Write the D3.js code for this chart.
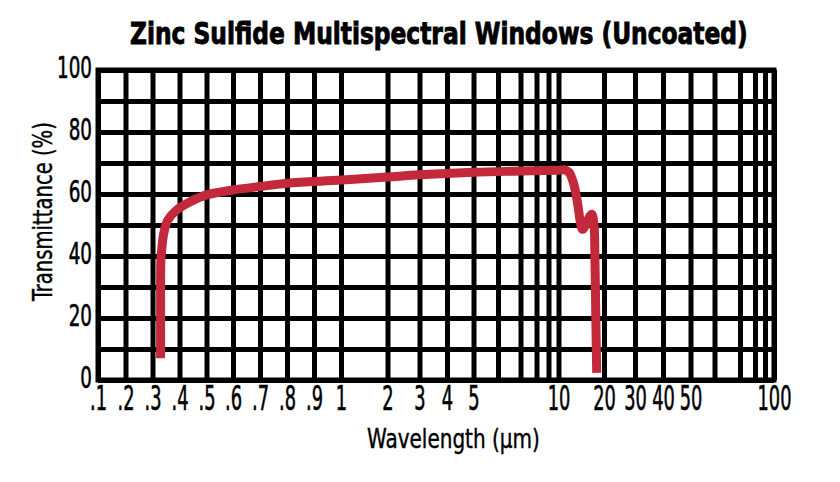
<!DOCTYPE html>
<html>
<head>
<meta charset="utf-8">
<script src="https://cdn.jsdelivr.net/npm/d3@7"></script>
<style>
  html, body { margin: 0; padding: 0; background: #fff; }
  svg { display: block; }
</style>
</head>
<body>
<svg id="chart" width="840" height="482"></svg>
<script>
// ---------------- DATA ----------------
const titleText = "Zinc Sulfide Multispectral Windows (Uncoated)";
const xTitle = "Wavelength (\u00b5m)";
const yTitle = "Transmittance (%)";

// grid breaks of the (hand-drawn, quasi-logarithmic) wavelength axis
const xGrid = [0.1,0.2,0.3,0.4,0.5,0.6,0.7,0.8,0.9,1,2,3,4,5,6,7,8,9,10,20,30,40,50,60,70,80,90,100];
const xLabelValues = [0.1,0.2,0.3,0.4,0.5,0.6,0.7,0.8,0.9,1,2,3,4,5,10,20,30,40,50,100];
const xLabelTexts  = [".1",".2",".3",".4",".5",".6",".7",".8",".9","1","2","3","4","5","10","20","30","40","50","100"];
const yGrid = [0,10,20,30,40,50,60,70,80,90,100];
const yLabelValues = [0,20,40,60,80,100];

// transmission curve (wavelength in µm, transmittance in %)
const wavelength = [0.330,0.330,0.331,0.334,0.342,0.357,0.389,0.44,0.50,0.60,0.70,0.80,1.0,2,3,5,7,10,11.4,12.3,13.3,14.2,14.8,15.3,16.4,17.3,17.8,18.0,18.2,18.4];
const transmittance = [7.0,25.8,38.7,41.9,47.4,51.6,54.8,57.5,59.7,61.3,62.4,63.5,64.5,65.5,66.2,67.0,67.4,67.7,67.8,67.0,63.5,57.0,51.0,48.6,51.5,53.5,50.0,40.0,20.0,2.3];

// ---------------- LAYOUT ----------------
const plot = { left: 98, right: 774, top: 70, bottom: 380 };
// pixel position of each grid break (the drawing's own uneven spacing)
const xBreakPos = [98,125.5,152.5,179.5,206.5,233,260,287,314,341,387.5,419.5,447,473.5,498,520.5,536.5,548.5,558.5,604,635,663,690.5,714.5,740,755,765,774];

const FONT = "'DejaVu Sans Condensed','Liberation Sans Narrow','Liberation Sans',sans-serif";
const RED = "#c3283b";

const svg = d3.select("#chart");

const x = d3.scaleLinear().domain(xGrid).range(xBreakPos);
const y = d3.scaleLinear().domain([0,100]).range([plot.bottom, plot.top]);

// ---- grid ----
const gx = svg.append("g")
  .attr("transform", `translate(0,${plot.bottom})`)
  .call(d3.axisBottom(x).tickValues(xGrid).tickSize(-(plot.bottom - plot.top)).tickFormat(""));
gx.select(".domain").remove();
gx.selectAll(".tick line").attr("stroke", "#000").attr("stroke-width", 5);

const gy = svg.append("g")
  .attr("transform", `translate(${plot.left},0)`)
  .call(d3.axisLeft(y).tickValues(yGrid).tickSize(-(plot.right - plot.left)).tickFormat(""));
gy.select(".domain").remove();
gy.selectAll(".tick line").attr("stroke", "#000").attr("stroke-width", 5);

svg.append("rect")
  .attr("x", plot.left).attr("y", plot.top)
  .attr("width", plot.right - plot.left).attr("height", plot.bottom - plot.top)
  .attr("fill", "none").attr("stroke", "#000").attr("stroke-width", 5);

// ---- curve ----
const pts = wavelength.map((w, i) => [w, transmittance[i]]);
svg.append("path")
  .datum(pts)
  .attr("fill", "none")
  .attr("stroke", RED)
  .attr("stroke-width", 9)
  .attr("stroke-linecap", "butt")
  .attr("stroke-linejoin", "round")
  .attr("d", d3.line().x(d => x(d[0])).y(d => y(d[1])).curve(d3.curveCatmullRom.alpha(0.5)));

// ---- measure condensed factor ----
function measure(txt, size, weight) {
  const t = svg.append("text").attr("font-family", FONT).attr("font-size", size)
    .attr("font-weight", weight || "normal").text(txt);
  const w = t.node().getComputedTextLength();
  t.remove();
  return w;
}
const yLabSize = 30, xLabSize = 33;
const fY = 35 / measure("100", yLabSize);
const fX = 34 / measure("100", xLabSize);

// ---- y labels ----
const ly = svg.append("g")
  .attr("transform", `translate(${plot.left},0)`)
  .call(d3.axisLeft(y).tickValues(yLabelValues).tickSize(0).tickFormat(d3.format("d")));
ly.select(".domain").remove();
ly.selectAll(".tick text")
  .attr("font-family", FONT).attr("font-size", yLabSize).attr("fill", "#000")
  .attr("stroke", "#000").attr("stroke-width", 0.6)
  .attr("x", 0).attr("dy", "0.25em")
  .attr("transform", `translate(-6,0) scale(${fY},1)`);

// ---- x labels ----
const lx = svg.append("g")
  .attr("transform", `translate(0,${plot.bottom})`)
  .call(d3.axisBottom(x).tickValues(xLabelValues).tickSize(0)
    .tickFormat(d => xLabelTexts[xLabelValues.indexOf(d)]));
lx.select(".domain").remove();
lx.selectAll(".tick text")
  .attr("font-family", FONT).attr("font-size", xLabSize).attr("fill", "#000")
  .attr("stroke", "#000").attr("stroke-width", 0.6)
  .attr("y", 0).attr("dy", "0.71em")
  .attr("transform", `translate(0,7) scale(${fX},1)`);

// ---- titles (condensed by a horizontal scale to the reference widths) ----
function fitText(txt, size, weight, width, tx, ty, rot, strokeW) {
  const f = width / measure(txt, size, weight);
  svg.append("text")
    .attr("transform", `translate(${tx},${ty})` + (rot ? ` rotate(${rot})` : "") + ` scale(${f},1)`)
    .attr("font-family", FONT).attr("font-weight", weight).attr("font-size", size)
    .attr("fill", "#000").attr("stroke", "#000").attr("stroke-width", strokeW)
    .text(txt);
}
fitText(titleText, 31, "bold", 618, 130, 44, 0, 0.9);
fitText(xTitle, 27, "normal", 173, 367, 448, 0, 0.4);
fitText(yTitle, 27, "normal", 179, 52, 301, -90, 0.4);
</script>
</body>
</html>
